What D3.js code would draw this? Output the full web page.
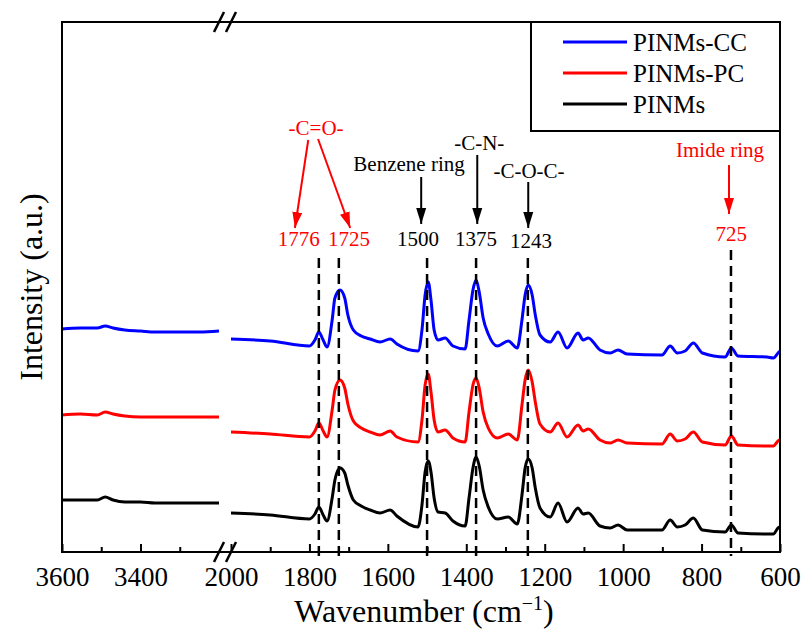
<!DOCTYPE html>
<html>
<head>
<meta charset="utf-8">
<script src="https://cdn.jsdelivr.net/npm/d3@7/dist/d3.min.js"></script>
<style>
  body { margin: 0; background: #fff; }
  svg text { font-family: serif; }
</style>
</head>
<body>
<div id="chart"></div>
<script>
// wavenumbers (cm-1) left of the axis break
const wavenumbersHigh = [3600, 3554, 3510, 3490, 3470, 3440, 3400, 3363, 3300, 3250, 3200];
// wavenumbers (cm-1) right of the axis break
const wavenumbersLow = [2000, 1900, 1800, 1786, 1776, 1765, 1755, 1742, 1735, 1722,
  1710, 1702, 1688, 1668, 1645, 1620, 1594, 1577, 1523, 1513,
  1505, 1497, 1490, 1482, 1472, 1454, 1434, 1403, 1393, 1383,
  1375, 1367, 1357, 1344, 1321, 1293, 1270, 1258, 1250, 1242,
  1232, 1224, 1212, 1186, 1166, 1143, 1115, 1102, 1089, 1059,
  1033, 1013, 990, 901, 880, 862, 842, 821, 798, 740,
  724, 707, 633, 617, 605, 600];

// intensities (a.u., curves already stacked)
const pinmsCCHigh = [223, 224, 224, 226, 224, 222, 221, 220, 220, 220, 221];
const pinmsCCLow = [213, 211, 206, 212, 220, 212, 205, 232, 254, 262,
  254, 237, 222, 216, 213, 210, 213, 208, 201, 222,
  257, 270, 252, 222, 212, 214, 206, 203, 232, 262,
  272, 260, 234, 218, 206, 211, 204, 232, 257, 267,
  257, 237, 217, 210, 220, 204, 219, 212, 214, 202,
  199, 202, 198, 197, 206, 199, 201, 209, 199, 195,
  204, 196, 195, 194, 199, 201];

const pinmsPCHigh = [137, 138, 137, 140, 138, 136, 135, 135, 135, 135, 135];
const pinmsPCLow = [120, 118, 115, 121, 129, 121, 115, 142, 162, 172,
  164, 148, 131, 124, 120, 117, 121, 115, 110, 132,
  167, 178, 160, 132, 120, 122, 114, 110, 140, 167,
  174, 164, 140, 124, 114, 118, 112, 147, 172, 182,
  170, 150, 128, 120, 129, 115, 127, 121, 123, 112,
  109, 112, 109, 108, 118, 111, 113, 120, 110, 107,
  116, 107, 106, 106, 111, 112];

const pinmsHigh = [52, 52, 52, 55, 52, 50, 50, 49, 49, 49, 49];
const pinmsLow = [39, 37, 33, 38, 45, 37, 31, 54, 72, 84,
  79, 67, 52, 46, 42, 39, 42, 36, 25, 47,
  80, 91, 80, 54, 40, 39, 31, 26, 54, 84,
  95, 86, 62, 45, 33, 35, 28, 57, 84, 93,
  84, 64, 44, 35, 49, 30, 44, 38, 39, 26,
  24, 27, 22, 22, 32, 25, 27, 34, 22, 20,
  27, 19, 18, 18, 24, 25];

const seriesNames = ['PINMs-CC', 'PINMs-PC', 'PINMs'];

// tick labels
const ticksHigh = [3600, 3400];
const minorHigh = [3500, 3300];
const ticksLow = [2000, 1800, 1600, 1400, 1200, 1000, 800, 600];
const minorLow = [1900, 1700, 1500, 1300, 1100, 900, 700];

// marked bands
const bandPositions = [1776, 1725, 1500, 1375, 1243, 725];

const red = '#ff0000';
const blue = '#0000ff';
const serif = '"Liberation Serif", serif';

const series = [
  { name: seriesNames[0], color: blue, high: pinmsCCHigh, low: pinmsCCLow },
  { name: seriesNames[1], color: red, high: pinmsPCHigh, low: pinmsPCLow },
  { name: seriesNames[2], color: '#000', high: pinmsHigh, low: pinmsLow },
];

const W = 803;
const H = 632;
const plotLeft = 62, plotRight = 780, plotTop = 22, plotBottom = 552;

const svg = d3.select('#chart')
  .append('svg')
  .attr('width', W)
  .attr('height', H);

const xHigh = d3.scaleLinear().domain([3600, 3200]).range([plotLeft, 219]);
const xLow = d3.scaleLinear().domain([2000, 600]).range([231, plotRight]);
const y = d3.scaleLinear().domain([0, 530]).range([plotBottom, plotTop]);

// spectra
series.forEach((s) => {
  const lineHigh = d3.line()
    .x((d, i) => xHigh(wavenumbersHigh[i]))
    .y((d) => y(d))
    .curve(d3.curveMonotoneX);
  const lineLow = d3.line()
    .x((d, i) => xLow(wavenumbersLow[i]))
    .y((d) => y(d))
    .curve(d3.curveMonotoneX);

  svg.append('path')
    .attr('d', lineHigh(s.high))
    .attr('fill', 'none')
    .attr('stroke', s.color)
    .attr('stroke-width', 3);
  svg.append('path')
    .attr('d', lineLow(s.low))
    .attr('fill', 'none')
    .attr('stroke', s.color)
    .attr('stroke-width', 3)
    .attr('stroke-linejoin', 'round');
});

// dashed band lines
svg.selectAll('.band')
  .data(bandPositions)
  .enter()
  .append('line')
  .attr('class', 'band')
  .attr('x1', (d) => xLow(d))
  .attr('x2', (d) => xLow(d))
  .attr('y1', (d) => d === 725 ? 250 : 258)
  .attr('y2', plotBottom + 4)
  .attr('stroke', '#000')
  .attr('stroke-width', 2.5)
  .attr('stroke-dasharray', '10,6');

// bottom axes (ticks inward)
function drawAxis(scale, major, minor) {
  svg.append('g')
    .attr('transform', 'translate(0,' + plotBottom + ')')
    .call(d3.axisBottom(scale).tickValues(minor).tickSize(-5).tickFormat(''))
    .call((g) => g.select('.domain').remove())
    .call((g) => g.selectAll('line').attr('stroke-width', 2));
  svg.append('g')
    .attr('transform', 'translate(0,' + plotBottom + ')')
    .call(d3.axisBottom(scale).tickValues(major).tickSize(-8).tickPadding(15).tickFormat(d3.format('d')))
    .call((g) => g.select('.domain').remove())
    .call((g) => g.selectAll('line').attr('stroke-width', 2))
    .call((g) => g.selectAll('text')
      .attr('fill', '#000')
      .style('font-family', serif)
      .style('font-size', '27px'));
}
drawAxis(xHigh, ticksHigh, minorHigh);
drawAxis(xLow, ticksLow, minorLow);

// frame
svg.append('rect')
  .attr('x', plotLeft)
  .attr('y', plotTop)
  .attr('width', plotRight - plotLeft)
  .attr('height', plotBottom - plotTop)
  .attr('fill', 'none')
  .attr('stroke', '#000')
  .attr('stroke-width', 2);

// break marks
[plotTop, plotBottom].forEach((yy) => {
  [xHigh(3200), xLow(2000)].forEach((xx) => {
    svg.append('line')
      .attr('x1', xx - 5).attr('y1', yy + 10)
      .attr('x2', xx + 5).attr('y2', yy - 10)
      .attr('stroke', '#000')
      .attr('stroke-width', 2.5);
  });
});

// legend
const legend = svg.append('g');
legend.append('rect')
  .attr('x', 531)
  .attr('y', plotTop)
  .attr('width', plotRight - 531)
  .attr('height', 109)
  .attr('fill', '#fff')
  .attr('stroke', '#000')
  .attr('stroke-width', 2);
series.forEach((s, i) => {
  const ly = 42 + i * 31;
  legend.append('line')
    .attr('x1', 563).attr('x2', 627)
    .attr('y1', ly).attr('y2', ly)
    .attr('stroke', s.color)
    .attr('stroke-width', 3);
  legend.append('text')
    .attr('x', 633)
    .attr('y', ly + 9)
    .text(s.name)
    .style('font-family', serif)
    .style('font-size', '25px');
});

// annotations
const notes = [
  { text: '-C=O-', wn: 1783, y: 135, color: red },
  { text: 'Benzene ring', wn: 1546, y: 171, color: '#000' },
  { text: '-C-N-', wn: 1367, y: 150, color: '#000' },
  { text: '-C-O-C-', wn: 1240, y: 178, color: '#000' },
  { text: 'Imide ring', wn: 753, y: 157, color: red },
  { text: '1776', wn: 1827, y: 246, color: red },
  { text: '1725', wn: 1699, y: 246, color: red },
  { text: '1500', wn: 1523, y: 246, color: '#000' },
  { text: '1375', wn: 1375, y: 246, color: '#000' },
  { text: '1243', wn: 1235, y: 248, color: '#000' },
  { text: '725', wn: 724, y: 241, color: red },
];
svg.selectAll('.note')
  .data(notes)
  .enter()
  .append('text')
  .attr('class', 'note')
  .attr('x', (d) => xLow(d.wn))
  .attr('y', (d) => d.y)
  .attr('text-anchor', 'middle')
  .attr('fill', (d) => d.color)
  .style('font-family', serif)
  .style('font-size', '21px')
  .text((d) => d.text);

const arrows = [
  { wn1: 1803, y1: 140, wn2: 1837, y2: 228, color: red },
  { wn1: 1778, y1: 139, wn2: 1696, y2: 228, color: red },
  { wn1: 1515, y1: 177, wn2: 1515, y2: 224, color: '#000' },
  { wn1: 1372, y1: 155, wn2: 1372, y2: 224, color: '#000' },
  { wn1: 1242, y1: 182, wn2: 1242, y2: 228, color: '#000' },
  { wn1: 730, y1: 165, wn2: 730, y2: 214, color: red },
];
const defs = svg.append('defs');
[['red', red], ['black', '#000']].forEach(([id, c]) => {
  defs.append('marker')
    .attr('id', 'head-' + id)
    .attr('markerUnits', 'userSpaceOnUse')
    .attr('viewBox', '0 -6 16 12')
    .attr('refX', 16)
    .attr('refY', 0)
    .attr('markerWidth', 16)
    .attr('markerHeight', 12)
    .attr('orient', 'auto')
    .append('path')
    .attr('d', 'M0,-5L16,0L0,5Z')
    .attr('fill', c);
});
svg.selectAll('.arrow')
  .data(arrows)
  .enter()
  .append('line')
  .attr('class', 'arrow')
  .attr('x1', (d) => xLow(d.wn1))
  .attr('y1', (d) => d.y1)
  .attr('x2', (d) => xLow(d.wn2))
  .attr('y2', (d) => d.y2)
  .attr('stroke', (d) => d.color)
  .attr('stroke-width', 2)
  .attr('marker-end', (d) => d.color === red ? 'url(#head-red)' : 'url(#head-black)');

// axis titles
const xTitle = svg.append('text')
  .attr('x', (plotLeft + plotRight) / 2 + 3)
  .attr('y', 622)
  .attr('text-anchor', 'middle')
  .style('font-family', serif)
  .style('font-size', '32px');
xTitle.append('tspan').text('Wavenumber (cm');
xTitle.append('tspan').attr('dy', -12).style('font-size', '20px').text('\u22121');
xTitle.append('tspan').attr('dy', 12).text(')');

svg.append('text')
  .attr('transform', 'translate(42,287) rotate(-90)')
  .attr('text-anchor', 'middle')
  .style('font-family', serif)
  .style('font-size', '32px')
  .text('Intensity (a.u.)');
</script>
</body>
</html>
